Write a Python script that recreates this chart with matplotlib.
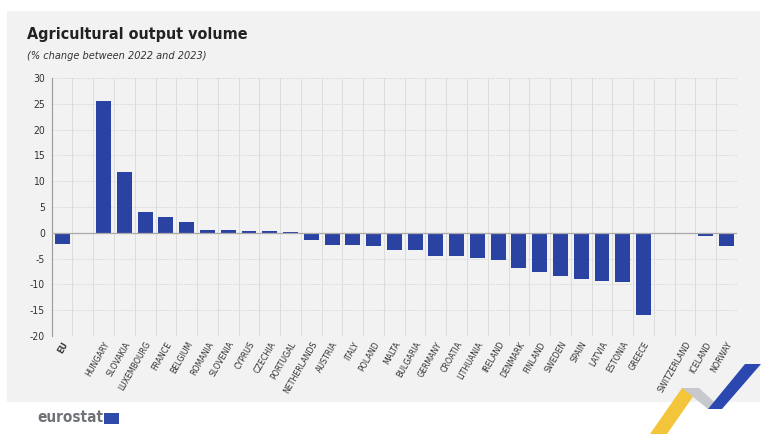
import matplotlib
matplotlib.use('Agg')
import matplotlib.pyplot as plt
from matplotlib.patches import Rectangle, Polygon
from matplotlib import font_manager

# データ（2022年→2023年の農業生産量の変化率 %）
eu_label = ['EU']
eu_values = [-2.2]
eu_countries = ['HUNGARY', 'SLOVAKIA', 'LUXEMBOURG', 'FRANCE', 'BELGIUM', 'ROMANIA',
                'SLOVENIA', 'CYPRUS', 'CZECHIA', 'PORTUGAL', 'NETHERLANDS', 'AUSTRIA',
                'ITALY', 'POLAND', 'MALTA', 'BULGARIA', 'GERMANY', 'CROATIA', 'LITHUANIA',
                'IRELAND', 'DENMARK', 'FINLAND', 'SWEDEN', 'SPAIN', 'LATVIA', 'ESTONIA',
                'GREECE']
eu_country_values = [25.6, 11.7, 4.1, 3.0, 2.0, 0.6, 0.5, 0.4, 0.4, 0.1, -1.4, -2.3,
                     -2.4, -2.6, -3.3, -3.4, -4.4, -4.5, -4.8, -5.2, -6.8, -7.5, -8.3,
                     -9.0, -9.3, -9.5, -15.9]
efta_countries = ['SWITZERLAND', 'ICELAND', 'NORWAY']
efta_values = [-0.3, -0.7, -2.6]
y_ticks = [30, 25, 20, 15, 10, 5, 0, -5, -10, -15, -20]

BAR_COLOR = '#2a43a3'
PANEL_COLOR = '#f2f2f2'

# 細めのフォント（DejaVu Sans Condensed があれば使う）
condensed = [f for f in font_manager.fontManager.ttflist
             if f.name == 'DejaVu Sans' and f.stretch == 'condensed']
plt.rcParams['font.family'] = ['DejaVu Sans']
if condensed:
    plt.rcParams['font.stretch'] = 'condensed'

# スロット配置: EU, 空き, EU加盟国, 空き, EFTA
labels = eu_label + [''] + eu_countries + [''] + efta_countries
values = eu_values + [None] + eu_country_values + [None] + efta_values
positions = list(range(len(labels)))

fig = plt.figure(figsize=(7.68, 4.47), dpi=100)
fig.patch.set_facecolor('white')
fig.patches.append(Rectangle((7 / 768, 1 - 402 / 447), 753 / 768, 391 / 447,
                             transform=fig.transFigure, facecolor=PANEL_COLOR,
                             edgecolor='none', zorder=-10))

ax = fig.add_axes([51.7 / 768, 1 - 336 / 447, (737 - 51.7) / 768, (336 - 78) / 447])
ax.set_facecolor(PANEL_COLOR)

bar_x = [p for p, v in zip(positions, values) if v is not None]
bar_v = [v for v in values if v is not None]
ax.bar(bar_x, bar_v, width=0.72, color=BAR_COLOR, zorder=3)

ax.set_xlim(-0.5, len(labels) - 0.5)
ax.set_ylim(-20, 30)
ax.set_yticks(y_ticks)
ax.set_yticklabels([str(t) for t in y_ticks], fontsize=7.5, color='#333333')

# 縦グリッド（カテゴリ境界）
for b in range(len(labels) + 1):
    ax.axvline(b - 0.5, color='#dcdcdc', lw=0.7, zorder=1)
for t in y_ticks:
    ax.axhline(t, color='#dcdcdc', lw=0.7, ls=(0, (2, 1)), zorder=1)
ax.axhline(0, color='#aaaaaa', lw=0.9, zorder=4)

ax.set_xticks(positions)
ax.set_xticklabels(labels, rotation=60, ha='right', rotation_mode='anchor',
                   fontsize=6.3, color='#333333')
ax.get_xticklabels()[0].set_fontweight('bold')
ax.tick_params(axis='both', length=0, pad=5)
ax.tick_params(axis='x', pad=3)
for s in ['top', 'right', 'bottom']:
    ax.spines[s].set_visible(False)
ax.spines['left'].set_color('#999999')
ax.spines['left'].set_linewidth(0.8)

fig.text(27 / 768, 1 - 35 / 447, 'Agricultural output volume', fontsize=11.5,
         fontweight='bold', color='#222222', va='center')
fig.text(27 / 768, 1 - 56 / 447, '(% change between 2022 and 2023)', fontsize=7.8,
         style='italic', color='#333333', va='center')

# eurostat ロゴ
fig.text(37 / 768, 1 - 418 / 447, 'eurostat', fontsize=11, fontweight='bold',
         color='#6f7378', va='center')
fig.patches.append(Rectangle((104 / 768, 1 - 424 / 447), 15 / 768, 11 / 447,
                             transform=fig.transFigure, facecolor='#2f4aa8',
                             edgecolor='none'))

# 右下の装飾リボン
ribbons = [
    ([(650, 434), (682, 388), (699, 388), (667, 434)], '#f3c53a'),
    ([(682, 388), (699, 388), (722, 409), (708, 409)], '#c8c9cc'),
    ([(708, 409), (722, 409), (761, 364), (745, 364)], '#2b47b0'),
]
for pts, col in ribbons:
    fig.patches.append(Polygon([(x / 768, 1 - y / 447) for x, y in pts], closed=True,
                               transform=fig.transFigure, facecolor=col,
                               edgecolor='none', zorder=5))

fig.savefig('out.png', dpi=100, facecolor=fig.get_facecolor())
